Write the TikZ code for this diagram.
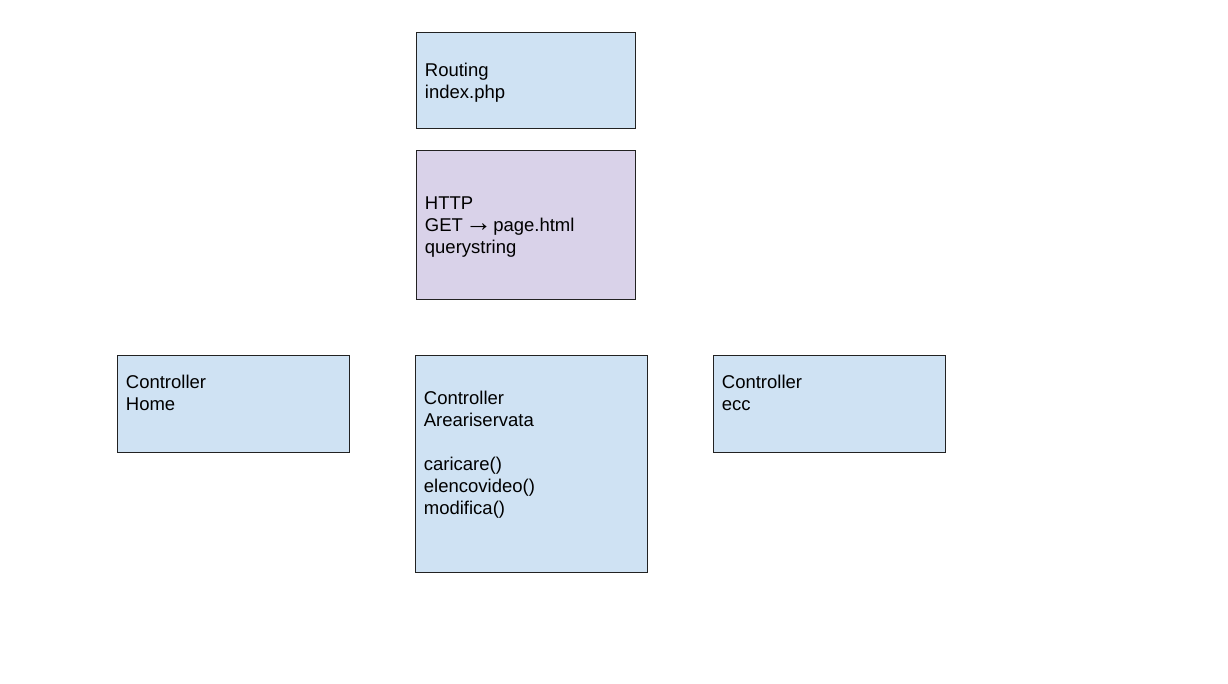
\documentclass[tikz,border=0pt]{standalone}
\usepackage{fontspec}
\setmainfont{Liberation Sans}
\usepackage{tikz}

\definecolor{boxblue}{HTML}{CFE2F3}
\definecolor{boxlilac}{HTML}{D9D2E9}
\definecolor{boxline}{HTML}{222222}

\begin{document}
\begin{tikzpicture}[x=1pt, y=-1pt,
  box/.style={draw=boxline, line width=0.8pt, rectangle, anchor=north west,
    align=left, inner xsep=8.5pt, inner ysep=0pt,
    font=\fontsize{18.5}{22}\selectfont}]
  \fill[white] (0,0) rectangle (1228,683);
  \useasboundingbox (0,0) rectangle (1228,683);

  % top: routing and request
  \node[box, fill=boxblue, text width=202pt, minimum height=96pt] (R) at (416,32)
    {\rule{0pt}{17.5pt}Routing\\index.php};
  \node[box, fill=boxlilac, text width=202pt, minimum height=149pt] (H) at (416,150)
    {\rule{0pt}{17.5pt}HTTP\\GET \kern-4pt{\fontsize{27}{22}\selectfont →}\kern-5pt{} page.html\\querystring};

  % controllers
  \node[box, fill=boxblue, text width=215pt, minimum height=97pt] (C1) at (117,355)
    {Controller\\Home\\\mbox{}};
  \node[box, fill=boxblue, text width=215pt, minimum height=217pt] (C2) at (415,355)
    {Controller\\Areariservata\\\mbox{}\\caricare()\\elencovideo()\\modifica()\\\mbox{}};
  \node[box, fill=boxblue, text width=215pt, minimum height=97pt] (C3) at (713,355)
    {Controller\\ecc\\\mbox{}};
\end{tikzpicture}
\end{document}
